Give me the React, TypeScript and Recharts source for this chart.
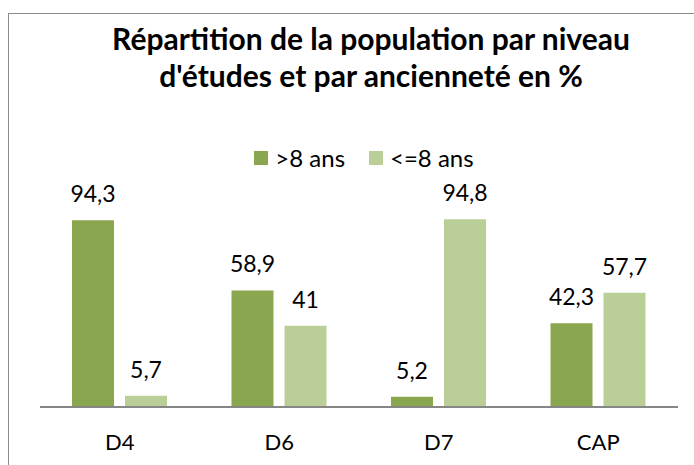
import React from "react";
import { BarChart, Bar, XAxis, YAxis, LabelList } from "recharts";

const categories = ["D4", "D6", "D7", "CAP"];
const seriesOver8 = [94.3, 58.9, 5.2, 42.3];
const seriesUnder8 = [5.7, 41, 94.8, 57.7];
const seriesNames = [">8 ans", "<=8 ans"];
const title = ["Répartition de la population par niveau", "d'études et par ancienneté en %"];

const data = categories.map((c, i) => ({ cat: c, a: seriesOver8[i], b: seriesUnder8[i] }));

const DARK = "#8aa64f";
const LIGHT = "#bacf97";
const FONT = "Lato, 'Noto Sans', sans-serif";

const fmt = (v: any) => String(v).replace(".", ",");

export default function App() {
  return (
    <div style={{ position: "absolute", left: 0, top: 0, width: 694, height: 465, overflow: "hidden", background: "#fff", fontFamily: FONT }}>
      <div style={{ position: "absolute", left: 8, top: 13, width: 760, height: 520, border: "1px solid #8c8c8c", boxSizing: "border-box" }} />
      <div style={{ position: "absolute", left: 0, top: 20, width: 742, textAlign: "center", fontWeight: 700, fontSize: 30, lineHeight: "37px", color: "#000", whiteSpace: "nowrap" }}>
        <div>{title[0]}</div>
        <div>{title[1]}</div>
      </div>
      <div style={{ position: "absolute", left: 0, top: 143, width: 728, height: 29, display: "flex", justifyContent: "center", alignItems: "center", fontSize: 24, lineHeight: "29px", color: "#000" }}>
        {seriesNames.map((n, i) => (
          <div key={n} style={{ display: "flex", alignItems: "center", marginRight: i === 0 ? 24 : 0 }}>
            <span style={{ display: "inline-block", width: 14, height: 14, background: i === 0 ? DARK : LIGHT, marginRight: 7 }} />
            <span>{n}</span>
          </div>
        ))}
      </div>
      <div style={{ position: "absolute", left: 0, top: 0 }}>
        <BarChart width={694} height={465} data={data} margin={{ top: 209, right: 16, bottom: 18, left: 40 }} barGap={11}>
          <YAxis hide domain={[0, 100]} />
          <XAxis
            dataKey="cat"
            height={40}
            tickLine={false}
            tickSize={0}
            tickMargin={27}
            axisLine={{ stroke: "#868686", strokeWidth: 2 }}
            tick={{ fill: "#000", fontSize: 22, fontFamily: FONT }}
          />
          <Bar dataKey="a" fill={DARK} barSize={42} isAnimationActive={false}>
            <LabelList dataKey="a" position="top" offset={18} formatter={fmt} style={{ fill: "#000", fontSize: 23, fontFamily: FONT }} />
          </Bar>
          <Bar dataKey="b" fill={LIGHT} barSize={42} isAnimationActive={false}>
            <LabelList dataKey="b" position="top" offset={18} formatter={fmt} style={{ fill: "#000", fontSize: 23, fontFamily: FONT }} />
          </Bar>
        </BarChart>
      </div>
    </div>
  );
}
